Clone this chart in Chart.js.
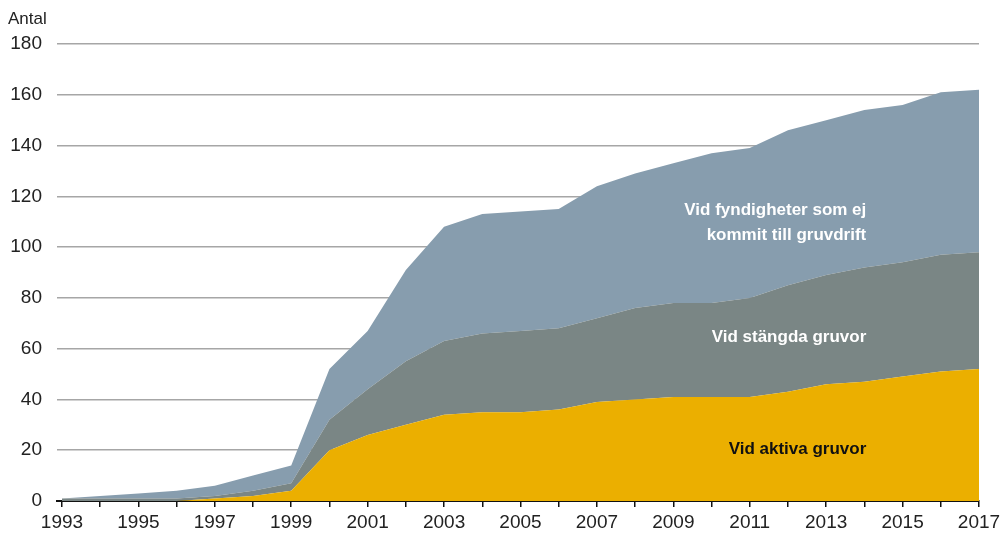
<!DOCTYPE html>
<html>
<head>
<meta charset="utf-8">
<script src="https://cdn.jsdelivr.net/npm/chart.js@4.4.0/dist/chart.umd.min.js"></script>
<style>
  html, body { margin: 0; padding: 0; background: #fff; }
  #wrap { width: 1001px; height: 534px; position: relative; }
</style>
</head>
<body>
<div id="wrap"><canvas id="myChart" width="1001" height="534"></canvas></div>
<script>
// years on the x axis
let years = [1993, 1994, 1995, 1996, 1997, 1998, 1999, 2000, 2001, 2002, 2003, 2004, 2005,
             2006, 2007, 2008, 2009, 2010, 2011, 2012, 2013, 2014, 2015, 2016, 2017];

// cumulative levels
let aktiva      = [0, 0, 0, 0, 1, 2, 4, 20, 26, 30, 34, 35, 35, 36, 39, 40, 41, 41, 41, 43, 46, 47, 49, 51, 52];
let stangdaTop  = [1, 1, 1, 1, 2, 4, 7, 32, 44, 55, 63, 66, 67, 68, 72, 76, 78, 78, 80, 85, 89, 92, 94, 97, 98];
let totalTop    = [1, 2, 3, 4, 6, 10, 14, 52, 67, 91, 108, 113, 114, 115, 124, 129, 133, 137, 139, 146, 150, 154, 156, 161, 162];

// stacked pieces
let stangda = stangdaTop.map((v, i) => v - aktiva[i]);
let fyndigheter = totalTop.map((v, i) => v - stangdaTop[i]);

let yTicks = [0, 20, 40, 60, 80, 100, 120, 140, 160, 180];

const FONT = "'Liberation Sans', sans-serif";

function toPoints(values) {
    return values.map((v, i) => ({ x: years[i], y: v }));
}

// text labels inside the areas
let areaLabels = [
    { lines: ['Vid fyndigheter som ej', 'kommit till gruvdrift'], x: 2014.05, y: 114.5, color: '#ffffff' },
    { lines: ['Vid stängda gruvor'], x: 2014.05, y: 64.5, color: '#ffffff' },
    { lines: ['Vid aktiva gruvor'], x: 2014.05, y: 20.5, color: '#111111' }
];

const textPlugin = {
    id: 'textPlugin',
    afterDraw(chart) {
        const ctx = chart.ctx;
        const xs = chart.scales.x, ys = chart.scales.y;
        ctx.save();
        ctx.font = "bold 17px " + FONT;
        ctx.textAlign = 'right';
        ctx.textBaseline = 'middle';
        areaLabels.forEach(l => {
            ctx.fillStyle = l.color;
            let px = xs.getPixelForValue(l.x);
            let py = ys.getPixelForValue(l.y);
            l.lines.forEach((t, k) => ctx.fillText(t, px, py + k * 25));
        });
        ctx.font = "17px " + FONT;
        ctx.textAlign = 'left';
        ctx.fillStyle = '#222';
        ctx.fillText('Antal', 8, 19);
        ctx.restore();
    }
};

const ctx = document.getElementById('myChart').getContext('2d');
new Chart(ctx, {
    type: 'line',
    data: {
        datasets: [{
            label: 'Vid aktiva gruvor',
            data: toPoints(aktiva),
            backgroundColor: '#ebaf00',
            fill: 'origin'
        }, {
            label: 'Vid stängda gruvor',
            data: toPoints(stangda),
            backgroundColor: '#7a8685',
            fill: '-1'
        }, {
            label: 'Vid fyndigheter som ej kommit till gruvdrift',
            data: toPoints(fyndigheter),
            backgroundColor: '#879dae',
            fill: '-1'
        }]
    },
    options: {
        responsive: false,
        animation: false,
        layout: { padding: { left: 0, right: 22, top: 44, bottom: 0 } },
        elements: {
            line: { borderWidth: 0, tension: 0 },
            point: { radius: 0 }
        },
        plugins: {
            legend: { display: false },
            tooltip: { enabled: false }
        },
        scales: {
            x: {
                type: 'linear',
                min: 1992.87,
                max: 2017,
                z: 1,
                afterBuildTicks: s => { s.ticks = years.map(v => ({ value: v })); },
                afterFit: s => { s.height = 33; s.paddingLeft = 0; s.paddingRight = 0; },
                border: { display: true, color: '#111', width: 2 },
                grid: { drawOnChartArea: false, drawTicks: true, tickLength: 6, color: '#111', lineWidth: 1.5 },
                ticks: {
                    padding: 4,
                    maxRotation: 0,
                    autoSkip: false,
                    color: '#222',
                    font: { family: FONT, size: 19 },
                    callback: v => (v % 2 === 1 ? String(v) : '')
                }
            },
            y: {
                stacked: true,
                min: 0,
                max: 180,
                afterBuildTicks: s => { s.ticks = yTicks.map(v => ({ value: v })); },
                afterFit: s => { s.width = 57; },
                border: { display: false },
                grid: { color: '#a6a6a6', lineWidth: 1.5, drawTicks: false },
                ticks: {
                    padding: 15,
                    color: '#222',
                    font: { family: FONT, size: 19 }
                }
            }
        }
    },
    plugins: [textPlugin]
});
</script>
</body>
</html>
